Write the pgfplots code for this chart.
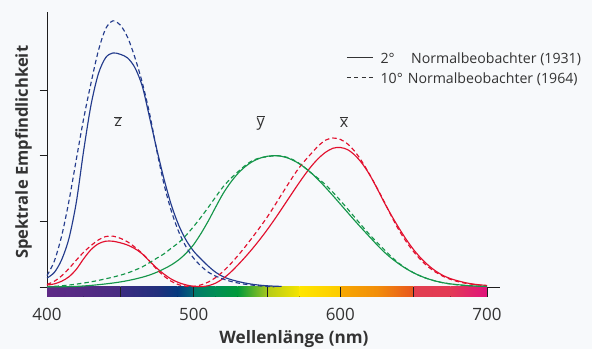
\documentclass[border=0pt]{standalone}
\usepackage{pgfplots}
\pgfplotsset{compat=1.18}
\usepackage{pgfplotstable}
\usepackage{fontspec}
\setmainfont{Open Sans}
\usetikzlibrary{backgrounds}

\definecolor{cred}{HTML}{E2102E}
\definecolor{cgreen}{HTML}{15964A}
\definecolor{cblue}{HTML}{233B8C}
\definecolor{txt}{HTML}{333333}
\definecolor{axiscol}{HTML}{1E1E1E}
\definecolor{bg}{HTML}{F7F9FB}

\newcommand{\ol}[1]{\ensuremath{\overline{\mbox{#1}}}}

% CIE 1931 2 degree observer
\pgfplotstableread{
l x y z
400 0.014310 0.000396 0.067850
405 0.023190 0.000640 0.110200
410 0.043510 0.001210 0.207400
415 0.077630 0.002180 0.371300
420 0.134380 0.004000 0.645600
425 0.214770 0.007300 1.039050
430 0.283900 0.011600 1.385600
435 0.328500 0.016840 1.622960
440 0.348280 0.023000 1.747060
445 0.348060 0.029800 1.782600
450 0.336200 0.038000 1.772110
455 0.318700 0.048000 1.744100
460 0.290800 0.060000 1.669200
465 0.251100 0.073900 1.528100
470 0.195360 0.090980 1.287640
475 0.142100 0.112600 1.041900
480 0.095640 0.139020 0.812950
485 0.057950 0.169300 0.616200
490 0.032010 0.208020 0.465180
495 0.014700 0.258600 0.353300
500 0.004900 0.323000 0.272000
505 0.002400 0.407300 0.212300
510 0.009300 0.503000 0.158200
515 0.029100 0.608200 0.111700
520 0.063270 0.710000 0.078250
525 0.109600 0.793200 0.057250
530 0.165500 0.862000 0.042160
535 0.225750 0.914850 0.029840
540 0.290400 0.954000 0.020300
545 0.359700 0.980300 0.013400
550 0.433450 0.994950 0.008750
555 0.512050 1.000000 0.005750
560 0.594500 0.995000 0.003900
565 0.678400 0.978600 0.002750
570 0.762100 0.952000 0.002100
575 0.842500 0.915400 0.001800
580 0.916300 0.870000 0.001650
585 0.978600 0.816300 0.001400
590 1.026300 0.757000 0.001100
595 1.056700 0.694900 0.001000
600 1.062200 0.631000 0.000800
605 1.045600 0.566800 0.000600
610 1.002600 0.503000 0.000340
615 0.938400 0.441200 0.000240
620 0.854450 0.381000 0.000190
625 0.751400 0.321000 0.000100
630 0.642400 0.265000 0.000050
635 0.541900 0.217000 0.000030
640 0.447900 0.175000 0.000020
645 0.360800 0.138200 0.000010
650 0.283500 0.107000 0
655 0.218700 0.081600 0
660 0.164900 0.061000 0
665 0.121200 0.044580 0
670 0.087400 0.032000 0
675 0.063600 0.023200 0
680 0.046770 0.017000 0
685 0.032900 0.011920 0
690 0.022700 0.008210 0
695 0.015840 0.005723 0
700 0.011359 0.004102 0
}\cieA

% CIE 1964 10 degree observer
\pgfplotstableread{
l x y z
400 0.019110 0.002004 0.086011
405 0.043400 0.004509 0.197120
410 0.084736 0.008756 0.389366
415 0.140638 0.014456 0.656760
420 0.204492 0.021391 0.972542
425 0.264737 0.029497 1.282500
430 0.314679 0.038676 1.553480
435 0.357719 0.049602 1.798500
440 0.383734 0.062077 1.967280
445 0.386726 0.074704 2.027300
450 0.370702 0.089456 1.994800
455 0.342957 0.106256 1.900700
460 0.302273 0.128201 1.745370
465 0.254085 0.152761 1.554900
470 0.195618 0.185190 1.317560
475 0.132349 0.219940 1.030200
480 0.080507 0.253589 0.772125
485 0.041072 0.297665 0.570060
490 0.016172 0.339133 0.415254
495 0.005132 0.395379 0.302356
500 0.003816 0.460777 0.218502
505 0.015444 0.531360 0.159249
510 0.037465 0.606741 0.112044
515 0.071358 0.685660 0.082248
520 0.117749 0.761757 0.060709
525 0.172953 0.823330 0.043050
530 0.236491 0.875211 0.030451
535 0.304213 0.923810 0.020584
540 0.376772 0.961988 0.013676
545 0.451584 0.982200 0.007918
550 0.529826 0.991761 0.003988
555 0.616053 0.999110 0.001091
560 0.705224 0.997340 0
565 0.793832 0.982380 0
570 0.878655 0.955552 0
575 0.951162 0.915175 0
580 1.014160 0.868934 0
585 1.074300 0.825623 0
590 1.118520 0.777405 0
595 1.134300 0.720353 0
600 1.123990 0.658341 0
605 1.089100 0.593878 0
610 1.030480 0.527963 0
615 0.950740 0.461834 0
620 0.856297 0.398057 0
625 0.754930 0.339554 0
630 0.647467 0.283493 0
635 0.535110 0.228254 0
640 0.431567 0.179828 0
645 0.343690 0.140211 0
650 0.268329 0.107633 0
655 0.204300 0.081187 0
660 0.152568 0.060281 0
665 0.112210 0.044096 0
670 0.081261 0.031800 0
675 0.057930 0.022602 0
680 0.040851 0.015905 0
685 0.028623 0.011130 0
690 0.019941 0.007749 0
695 0.013842 0.005375 0
700 0.009577 0.003718 0
}\cieB

\begin{document}
\begin{tikzpicture}
\begin{axis}[
  scale only axis, width=453.2bp, height=275bp,
  xmin=400, xmax=709, ymin=0, ymax=2.095,
  axis x line*=bottom, axis y line*=left,
  axis line style={draw=axiscol, line width=0.8bp, -},
  every outer x axis line/.append style={-},
  every outer y axis line/.append style={-},
  xtick={400,500,600,700},
  major x tick style={draw=none},
  ytick={0,0.5,1,1.5}, yticklabels={},
  tick align=outside, major tick length=7.5bp,
  tick style={axiscol, line width=0.8bp},
  /pgf/number format/assume math mode=true,
  xticklabel style={font=\fontsize{17}{20}\selectfont, text=txt, yshift=-10bp},
  clip=false,
  every axis plot/.append style={line width=1.15bp, smooth},
]
% colour bar
\def\bb{-0.0762}
\fill[left color={rgb,255:red,94;green,42;blue,134}, right color={rgb,255:red,84;green,43;blue,132}] (axis cs:400,0) rectangle (axis cs:425,\bb);
\fill[left color={rgb,255:red,84;green,43;blue,132}, right color={rgb,255:red,72;green,44;blue,130}] (axis cs:425,0) rectangle (axis cs:450,\bb);
\fill[left color={rgb,255:red,58;green,44;blue,130}, right color={rgb,255:red,35;green,48;blue,125}] (axis cs:450,0) rectangle (axis cs:475,\bb);
\fill[left color={rgb,255:red,35;green,48;blue,125}, right color={rgb,255:red,5;green,58;blue,126}] (axis cs:475,0) rectangle (axis cs:489,\bb);
\fill[left color={rgb,255:red,5;green,58;blue,126}, right color={rgb,255:red,0;green,105;blue,119}] (axis cs:489,0) rectangle (axis cs:500,\bb);
\fill[left color={rgb,255:red,0;green,122;blue,106}, right color={rgb,255:red,0;green,143;blue,85}] (axis cs:500,0) rectangle (axis cs:515,\bb);
\fill[left color={rgb,255:red,0;green,143;blue,85}, right color={rgb,255:red,0;green,154;blue,58}] (axis cs:515,0) rectangle (axis cs:530,\bb);
\fill[left color={rgb,255:red,0;green,154;blue,58}, right color={rgb,255:red,165;green,199;blue,30}] (axis cs:530,0) rectangle (axis cs:550,\bb);
\fill[left color={rgb,255:red,180;green,203;blue,23}, right color={rgb,255:red,245;green,228;blue,0}] (axis cs:550,0) rectangle (axis cs:572,\bb);
\fill[left color={rgb,255:red,255;green,230;blue,0}, right color={rgb,255:red,253;green,203;blue,0}] (axis cs:572,0) rectangle (axis cs:600,\bb);
\fill[left color={rgb,255:red,247;green,168;blue,0}, right color={rgb,255:red,242;green,142;blue,10}] (axis cs:600,0) rectangle (axis cs:625,\bb);
\fill[left color={rgb,255:red,242;green,142;blue,10}, right color={rgb,255:red,232;green,86;blue,30}] (axis cs:625,0) rectangle (axis cs:650,\bb);
\fill[left color={rgb,255:red,226;green,63;blue,80}, right color={rgb,255:red,227;green,58;blue,85}] (axis cs:650,0) rectangle (axis cs:675,\bb);
\fill[left color={rgb,255:red,227;green,58;blue,85}, right color={rgb,255:red,224;green,19;blue,124}] (axis cs:675,0) rectangle (axis cs:700,\bb);
\foreach \s in {450,500,550,600,650,700} {
  \edef\tmp{\noexpand\draw[axiscol, line width=0.9bp] (axis cs:\s,0) -- (axis cs:\s,\bb);}\tmp
}

% 1931 (solid)
\addplot[cblue, forget plot] table[x=l, y=z, restrict x to domain=400:560] {\cieA};
\addplot[cred, forget plot] table[x=l, y=x] {\cieA};
\addplot[cgreen, forget plot] table[x=l, y=y] {\cieA};
% 1964 (dashed)
\addplot[cblue, dash pattern=on 4.5bp off 3bp, forget plot] table[x=l, y=z, restrict x to domain=400:555] {\cieB};
\addplot[cred, dash pattern=on 4.5bp off 3bp, forget plot] table[x=l, y=x] {\cieB};
\addplot[cgreen, dash pattern=on 4.5bp off 3bp, forget plot] table[x=l, y=y] {\cieB};

% curve labels
\node[anchor=base, text=txt, font=\fontsize{16}{19}\selectfont] at (axis cs:448.4,1.221) {\ol{z}};
\node[anchor=base, text=txt, font=\fontsize{16}{19}\selectfont] at (axis cs:545.7,1.225) {\ol{y}};
\node[anchor=base, text=txt, font=\fontsize{16}{19}\selectfont] at (axis cs:602.5,1.216) {\ol{x}};

% legend
\draw[txt, line width=1bp] (axis cs:604.5,1.748) -- (axis cs:622.6,1.748);
\node[anchor=base west, inner sep=0pt, text=txt, font=\fontsize{14.2}{17}\selectfont] at (axis cs:627.3,1.704) {2°};
\node[anchor=base west, inner sep=0pt, text=txt, font=\fontsize{14.2}{17}\selectfont] at (axis cs:648.2,1.704) {Normalbeobachter (1931)};
\draw[txt, line width=1bp, dash pattern=on 4bp off 3.3bp] (axis cs:604.5,1.596) -- (axis cs:622.6,1.596);
\node[anchor=base west, inner sep=0pt, text=txt, font=\fontsize{14.2}{17}\selectfont] at (axis cs:627.3,1.551) {10°};
\node[anchor=base west, inner sep=0pt, text=txt, font=\fontsize{14.2}{17}\selectfont] at (axis cs:645.9,1.551) {Normalbeobachter (1964)};

% axis labels
\node[anchor=base, text=txt, font=\bfseries\fontsize{17.2}{20}\selectfont] at (axis cs:568.4,-0.434) {Wellenlänge (nm)};
\node[anchor=base, rotate=90, text=txt, font=\bfseries\fontsize{16.6}{19}\selectfont] at (axis cs:387.0,1.025) {Spektrale Empfindlichkeit};

\coordinate (bl) at (axis cs:367.95,-0.4726);
\coordinate (tr) at (axis cs:771.6,2.1859);
\end{axis}
\begin{scope}[on background layer]
  \fill[bg] (bl) rectangle (tr);
\end{scope}
\pgfresetboundingbox
\path[use as bounding box] (bl) rectangle (tr);
\end{tikzpicture}
\end{document}
